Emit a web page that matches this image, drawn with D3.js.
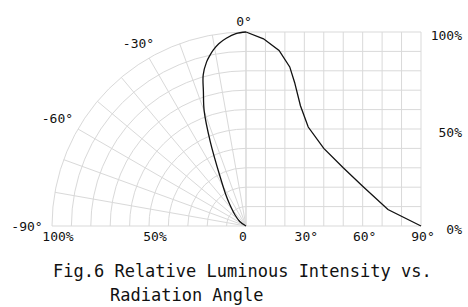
<!DOCTYPE html>
<html>
<head>
<meta charset="utf-8">
<script src="https://cdn.jsdelivr.net/npm/d3@7"></script>
<style>
  body { margin: 0; background: #fff; }
  svg text { font-family: "DejaVu Sans Mono", monospace; fill: #111; }
</style>
</head>
<body>
<div id="vis"></div>
<script>
var width = 468;
var height = 307;

// polar half (left): angle off axis (deg) vs relative intensity (%)
var polarAngles = [0, 3, 6, 8.5, 10.5, 12, 13.5, 15.8, 17.6, 20, 23, 28, 33, 37, 45, 54, 90];
var polarValues = [100, 99.3, 97.3, 95, 92.3, 89.8, 87, 81, 72.6, 63, 47, 28, 19, 14, 8, 4, 0];

// cartesian half (right)
var cartAngles = [0, 9, 17, 22.5, 25, 28, 32, 40, 50, 60, 73, 90];
var cartValues = [100, 96.5, 90.5, 82, 74, 62, 51, 40, 30, 20.5, 8.5, 0];

var angleTicks = [0, 10, 20, 30, 40, 50, 60, 70, 80, 90];
var pctTicks = [0, 10, 20, 30, 40, 50, 60, 70, 80, 90, 100];
var polarLabels = ['0°', '-30°', '-60°', '-90°'];
var polarLabelAngles = [0, 30, 60, 90];
var bottomLeftLabels = ['100%', '50%', '0'];
var bottomLeftValues = [100, 50, 0];
var bottomRightLabels = ['30°', '60°', '90°'];
var bottomRightValues = [30, 60, 90];
var rightLabels = ['100%', '50%', '0%'];
var rightValues = [100, 50, 0];
var captionLines = ['Fig.6 Relative Luminous Intensity vs.', 'Radiation Angle'];

var cx = 246, cy = 226, R = 194;
var gridColor = '#d9d9d9';

var r = d3.scaleLinear().domain([0, 100]).range([0, R]);
var x = d3.scaleLinear().domain([0, 90]).range([cx, cx + 175]);
var y = d3.scaleLinear().domain([0, 100]).range([cy, cy - R]);

var svg = d3.select('#vis')
    .append('svg')
    .attr('width', width)
    .attr('height', height);

var grid = svg.append('g')
    .attr('fill', 'none')
    .attr('stroke', gridColor)
    .attr('stroke-width', 1);

// polar arcs
pctTicks.filter(function (d) { return d > 0; }).forEach(function (d) {
    var p = d3.path();
    p.moveTo(cx - r(d), cy);
    p.arc(cx, cy, r(d), Math.PI, 1.5 * Math.PI);
    grid.append('path').attr('d', p.toString());
});
// polar spokes
angleTicks.forEach(function (a) {
    var t = a * Math.PI / 180;
    grid.append('line')
        .attr('x1', cx).attr('y1', cy)
        .attr('x2', cx - R * Math.sin(t))
        .attr('y2', cy - R * Math.cos(t));
});
// cartesian grid
angleTicks.forEach(function (a) {
    grid.append('line')
        .attr('x1', x(a)).attr('x2', x(a))
        .attr('y1', y(0)).attr('y2', y(100));
});
pctTicks.forEach(function (v) {
    grid.append('line')
        .attr('x1', x(0)).attr('x2', x(90))
        .attr('y1', y(v)).attr('y2', y(v));
});

// curves
var polarData = polarAngles.map(function (a, i) { return [a, polarValues[i]]; });
var cartData = cartAngles.map(function (a, i) { return [a, cartValues[i]]; });

var radial = d3.lineRadial()
    .angle(function (d) { return -d[0] * Math.PI / 180; })
    .radius(function (d) { return r(d[1]); })
    .curve(d3.curveCatmullRom);

svg.append('path')
    .datum(polarData)
    .attr('transform', 'translate(' + cx + ',' + cy + ')')
    .attr('d', radial)
    .attr('fill', 'none')
    .attr('stroke', '#111')
    .attr('stroke-width', 1.3);

var line = d3.line()
    .x(function (d) { return x(d[0]); })
    .y(function (d) { return y(d[1]); });

svg.append('path')
    .datum(cartData)
    .attr('d', line)
    .attr('fill', 'none')
    .attr('stroke', '#111')
    .attr('stroke-width', 1.3);

// polar angle labels
polarLabels.forEach(function (txt, i) {
    var t = polarLabelAngles[i] * Math.PI / 180;
    var rr = R + 11 + 12 * Math.sin(t);
    svg.append('text')
        .attr('x', cx - 2 - rr * Math.sin(t))
        .attr('y', cy - rr * Math.cos(t))
        .attr('dy', '0.35em')
        .attr('text-anchor', 'middle')
        .style('font-size', '13px')
        .text(txt);
});

// bottom labels
bottomLeftLabels.forEach(function (txt, i) {
    var v = bottomLeftValues[i];
    svg.append('text')
        .attr('x', cx - r(v) + (v === 0 ? -3 : 6))
        .attr('y', 241)
        .attr('text-anchor', 'middle')
        .style('font-size', '13px')
        .text(txt);
});
bottomRightLabels.forEach(function (txt, i) {
    svg.append('text')
        .attr('x', x(bottomRightValues[i]) + 2)
        .attr('y', 241)
        .attr('text-anchor', 'middle')
        .style('font-size', '13px')
        .text(txt);
});

// right labels
rightLabels.forEach(function (txt, i) {
    svg.append('text')
        .attr('x', 462)
        .attr('y', y(rightValues[i]) + 8)
        .attr('text-anchor', 'end')
        .style('font-size', '13px')
        .text(txt);
});

// caption
svg.append('text')
    .attr('x', 53).attr('y', 277)
    .style('font-size', '17px')
    .text(captionLines[0]);
svg.append('text')
    .attr('x', 110).attr('y', 301)
    .style('font-size', '17px')
    .text(captionLines[1]);
</script>
</body>
</html>
